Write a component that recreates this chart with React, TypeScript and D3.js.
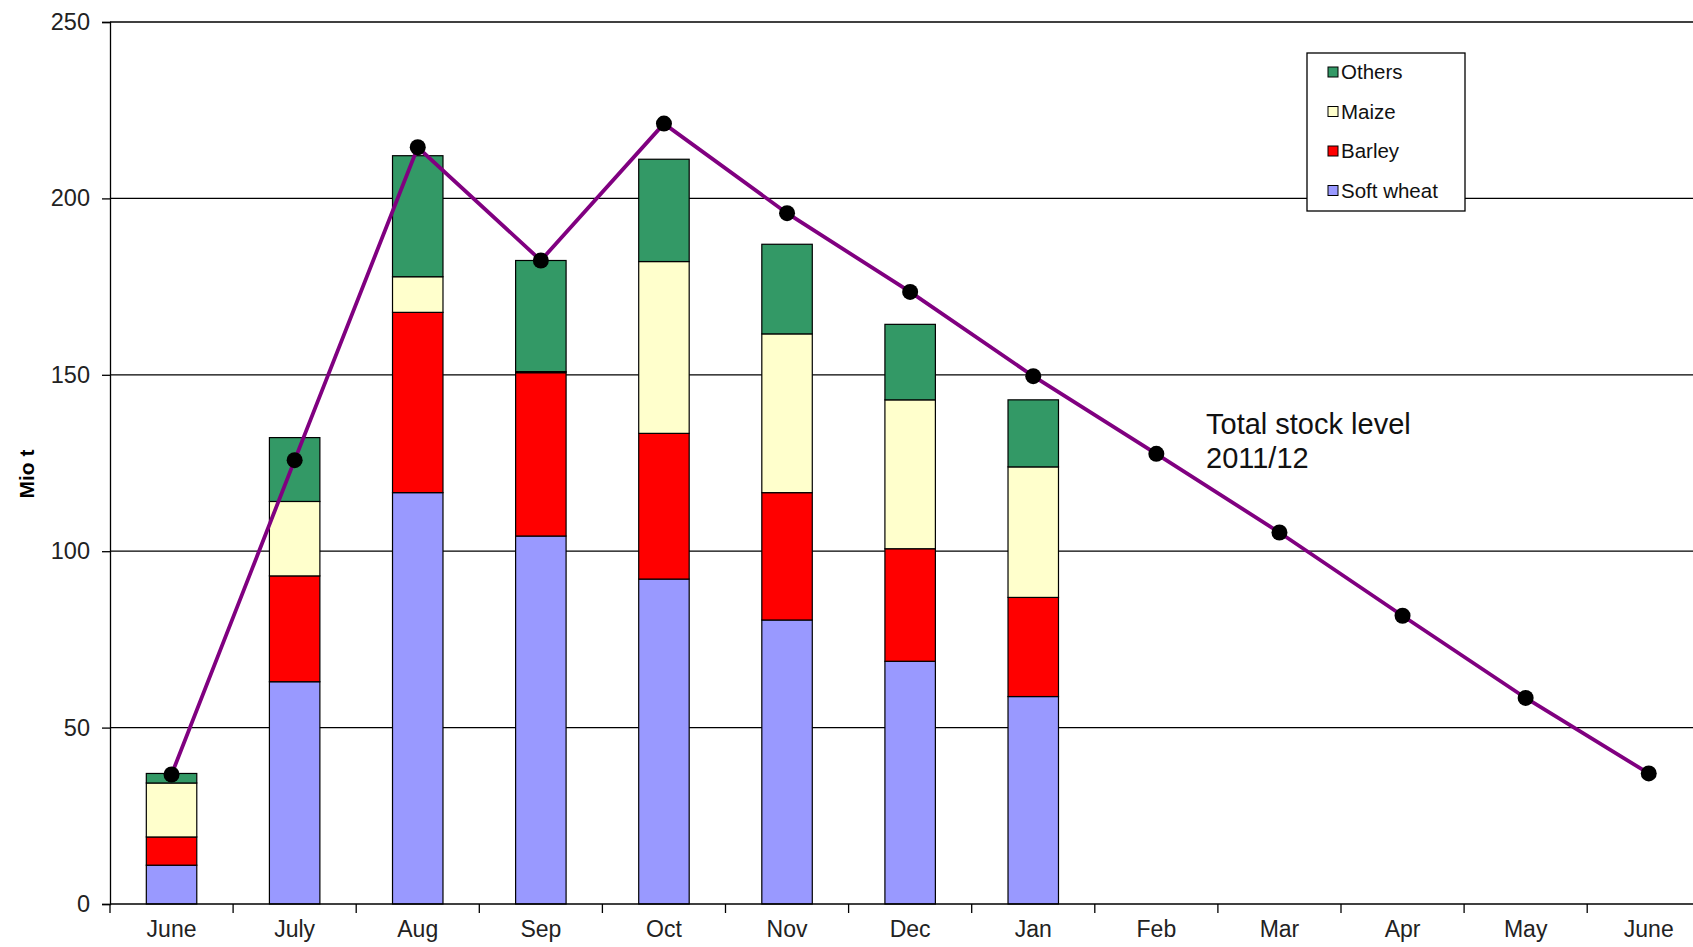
import { useEffect, useRef } from 'react';
import * as d3 from 'd3';

const MONTHS = ['June', 'July', 'Aug', 'Sep', 'Oct', 'Nov', 'Dec', 'Jan', 'Feb', 'Mar', 'Apr', 'May', 'June '];
const SOFT_WHEAT = [11.0, 63.0, 116.6, 104.3, 92.1, 80.5, 68.8, 58.8];
const BARLEY = [8.0, 30.0, 51.1, 46.3, 41.3, 36.1, 31.9, 28.1];
const MAIZE = [15.3, 21.1, 10.1, 0.3, 48.7, 45.0, 42.2, 37.0];
const OTHERS = [2.7, 18.1, 34.3, 31.5, 29.0, 25.4, 21.4, 19.0];
const TOTAL_STOCK = [36.7, 125.8, 214.5, 182.4, 221.2, 195.8, 173.5, 149.6, 127.6, 105.3, 81.7, 58.4, 37.0];
const Y_TICKS = [0, 50, 100, 150, 200, 250];

const SERIES = [
  { key: 'Soft wheat', values: SOFT_WHEAT, color: '#9999ff' },
  { key: 'Barley', values: BARLEY, color: '#ff0000' },
  { key: 'Maize', values: MAIZE, color: '#ffffcc' },
  { key: 'Others', values: OTHERS, color: '#339966' },
];

const FONT = '"Liberation Sans", Arial, sans-serif';

const App = () => {
  const svgRef = useRef<SVGSVGElement | null>(null);

  useEffect(() => {
    if (!svgRef.current) return;
    const width = 1693;
    const height = 947;
    const left = 110;
    const step = 123.1;

    const svg = d3.select(svgRef.current);
    svg.selectAll('*').remove();

    const x = d3.scaleBand<string>()
      .domain(MONTHS)
      .range([left, left + MONTHS.length * step])
      .paddingInner(0.59)
      .paddingOuter(0.295);

    const y = d3.scaleLinear().domain([0, 250]).range([904, 22]);

    // gridlines
    svg.append('g')
      .selectAll('line')
      .data(Y_TICKS.filter(t => t > 0))
      .join('line')
      .attr('x1', left).attr('x2', width)
      .attr('y1', d => y(d)).attr('y2', d => y(d))
      .attr('stroke', '#000').attr('stroke-width', 1.3);

    // stacked bars
    const rows = SOFT_WHEAT.map((_, i) => {
      const r: any = { month: MONTHS[i] };
      SERIES.forEach(s => { r[s.key] = s.values[i]; });
      return r;
    });
    const stack = d3.stack<any>().keys(SERIES.map(s => s.key))(rows);

    svg.append('g')
      .selectAll('g')
      .data(stack)
      .join('g')
      .attr('fill', (_, i) => SERIES[i].color)
      .selectAll('rect')
      .data(d => d)
      .join('rect')
      .attr('x', d => x(d.data.month)!)
      .attr('width', x.bandwidth())
      .attr('y', d => y(d[1]))
      .attr('height', d => y(d[0]) - y(d[1]))
      .attr('stroke', '#000')
      .attr('stroke-width', 1.2);

    // y axis
    const yAxis = svg.append('g')
      .attr('transform', `translate(${left},0)`)
      .call(d3.axisLeft(y).tickValues(Y_TICKS).tickSize(8).tickPadding(12));
    yAxis.selectAll('text')
      .style('font-family', FONT).style('font-size', '23.5px').style('fill', '#222');
    yAxis.selectAll('.domain, .tick line').attr('stroke', '#000').attr('stroke-width', 1.3);

    // x axis
    const xAxis = svg.append('g')
      .attr('transform', `translate(0,${y(0)})`)
      .call(d3.axisBottom(x).tickSize(0).tickPadding(17).tickSizeOuter(0));
    xAxis.select('.domain').attr('stroke', '#000').attr('stroke-width', 1.3)
      .attr('d', `M${left},0H${width}`);
    xAxis.selectAll('text')
      .style('font-family', FONT).style('font-size', '23px').style('fill', '#222');
    svg.append('g')
      .selectAll('line')
      .data(d3.range(MONTHS.length + 1))
      .join('line')
      .attr('x1', i => left + i * step).attr('x2', i => left + i * step)
      .attr('y1', y(0)).attr('y2', y(0) + 9)
      .attr('stroke', '#000').attr('stroke-width', 1.3);

    // total stock line
    const cx = (i: number) => x(MONTHS[i])! + x.bandwidth() / 2;
    const line = d3.line<number>().x((_, i) => cx(i)).y(d => y(d));
    svg.append('path')
      .datum(TOTAL_STOCK)
      .attr('d', line)
      .attr('fill', 'none')
      .attr('stroke', '#800080')
      .attr('stroke-width', 3.8);
    svg.append('g')
      .selectAll('circle')
      .data(TOTAL_STOCK)
      .join('circle')
      .attr('cx', (_, i) => cx(i))
      .attr('cy', d => y(d))
      .attr('r', 8)
      .attr('fill', '#000');

    // legend
    const lg = svg.append('g').attr('transform', 'translate(1307,53)');
    lg.append('rect').attr('width', 158).attr('height', 158)
      .attr('fill', '#fff').attr('stroke', '#000').attr('stroke-width', 1.3);
    [...SERIES].reverse().forEach((s, i) => {
      const ly = 19 + i * 39.5;
      lg.append('rect').attr('x', 21).attr('y', ly - 5).attr('width', 10).attr('height', 10)
        .attr('fill', s.color).attr('stroke', '#000').attr('stroke-width', 1);
      lg.append('text').attr('x', 34).attr('y', ly + 7)
        .style('font-family', FONT).style('font-size', '20.5px').style('fill', '#111')
        .text(s.key);
    });

    // annotation
    const ann = svg.append('text')
      .style('font-family', FONT).style('font-size', '29px').style('fill', '#111');
    ann.append('tspan').attr('x', 1206).attr('y', 434).text('Total stock level');
    ann.append('tspan').attr('x', 1206).attr('y', 468).text('2011/12');

    // y title
    svg.append('text')
      .attr('transform', `translate(34,${474}) rotate(-90)`)
      .attr('text-anchor', 'middle')
      .style('font-family', FONT).style('font-size', '21px').style('font-weight', 'bold')
      .text('Mio t');

    svg.attr('width', width).attr('height', height);
  }, []);

  return (
    <svg ref={svgRef} width={1693} height={947}
      style={{ position: 'absolute', left: 0, top: 0, background: '#fff' }} />
  );
};

export default App;
